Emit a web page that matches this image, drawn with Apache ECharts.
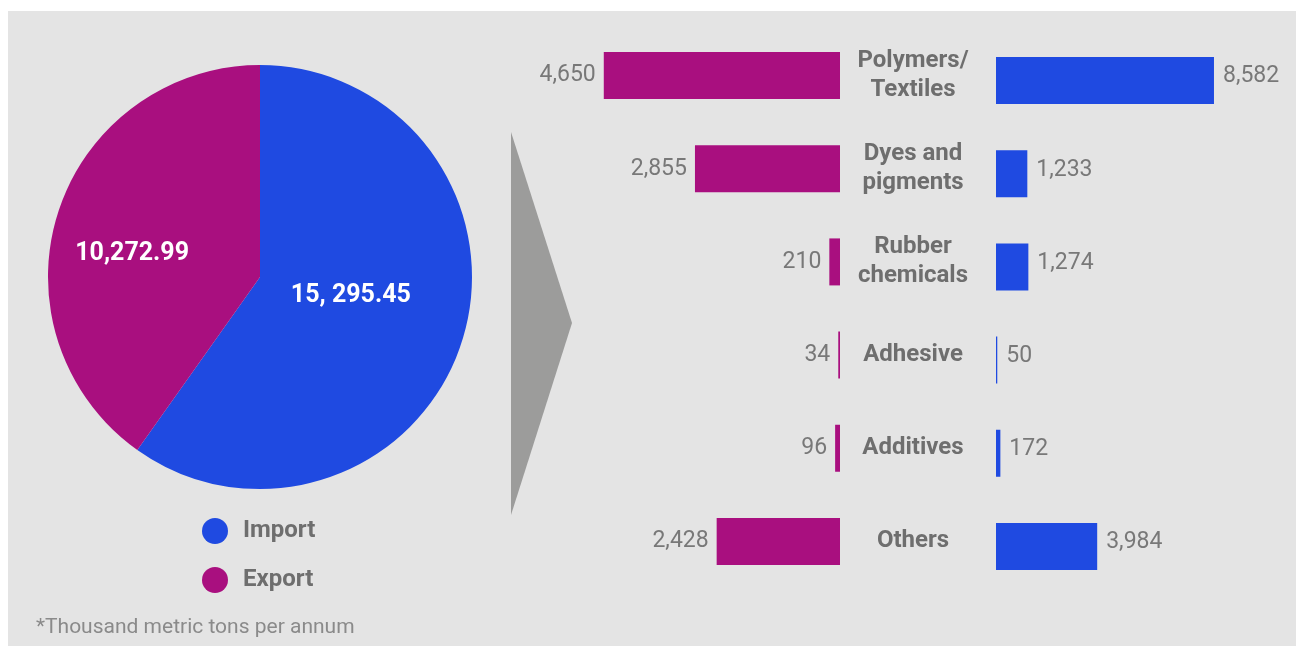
<!DOCTYPE html>
<html>
<head>
<meta charset="utf-8">
<title>Import / Export by segment</title>
<script src="https://cdn.jsdelivr.net/npm/echarts@6/dist/echarts.min.js"></script>
<style>
  html, body { margin: 0; padding: 0; background: #ffffff; }
  #chart { width: 1296px; height: 646px; }
</style>
</head>
<body>
<div id="chart"></div>
<script>
// Totals (thousand metric tons per annum)
const pieNames = ['Import', 'Export'];
const pieValues = [15295.45, 10272.99];
const pieLabels = ['15, 295.45', '10,272.99'];

// Breakdown by segment
const categories = ['Polymers/\nTextiles', 'Dyes and\npigments', 'Rubber\nchemicals', 'Adhesive', 'Additives', 'Others'];
const exportValues = [4650, 2855, 210, 34, 96, 2428];
const importValues = [8582, 1233, 1274, 50, 172, 3984];

const footnote = '*Thousand metric tons per annum';

const BLUE = '#1f4ae1';
const MAGENTA = '#a90f7f';
const FONT = 'Roboto, "Noto Sans", sans-serif';

const fmt = v => Number(v).toLocaleString('en-US');

const chart = echarts.init(document.getElementById('chart'), null, { renderer: 'canvas' });

chart.setOption({
  animation: false,
  backgroundColor: '#ffffff',
  textStyle: { fontFamily: FONT },
  graphic: [
    { type: 'rect', z: -10, silent: true,
      shape: { x: 8, y: 11, width: 1288, height: 635 },
      style: { fill: '#e4e4e4' } },
    { type: 'polygon', z: 1, silent: true,
      shape: { points: [[511, 132], [572, 323], [511, 515]] },
      style: { fill: '#9c9c9b' } },
    { type: 'text', z: 5, left: 36, top: 617,
      style: { text: footnote, fill: '#8a8a8a', font: '21px ' + FONT } }
  ],
  legend: {
    orient: 'vertical',
    left: 197,
    top: 513,
    itemWidth: 26,
    itemHeight: 26,
    itemGap: 23,
    icon: 'circle',
    data: pieNames,
    textStyle: {
      color: '#6e6e6e', fontSize: 24, fontWeight: 'bold', fontFamily: FONT,
      padding: [0, 0, 0, 10]
    }
  },
  grid: [
    { left: 586, width: 254, top: 29, height: 559 },
    { left: 996, width: 254, top: 34, height: 559 }
  ],
  xAxis: [
    { gridIndex: 0, type: 'value', min: 0, max: 5000, inverse: true, show: false },
    { gridIndex: 1, type: 'value', min: 0, max: 10000, show: false }
  ],
  yAxis: [
    { gridIndex: 0, type: 'category', data: categories, inverse: true, position: 'right',
      axisLine: { show: false }, axisTick: { show: false }, splitLine: { show: false },
      axisLabel: {
        show: true, margin: 73, align: 'center', verticalAlign: 'middle',
        color: '#6e6e6e', fontSize: 24, fontWeight: 'bold', lineHeight: 29, fontFamily: FONT
      } },
    { gridIndex: 1, type: 'category', data: categories, inverse: true, show: false }
  ],
  series: [
    {
      type: 'pie',
      center: [260, 277],
      radius: [0, 212],
      startAngle: 90,
      clockwise: true,
      avoidLabelOverlap: false,
      data: pieNames.map((n, i) => ({
        name: n, value: pieValues[i],
        itemStyle: { color: i === 0 ? BLUE : MAGENTA }
      })),
      itemStyle: { borderWidth: 0 },
      label: {
        show: true, position: 'inside',
        color: '#ffffff', fontSize: 25, fontWeight: 'bold', fontFamily: FONT,
        formatter: p => pieLabels[p.dataIndex]
      },
      labelLine: { show: false },
      labelLayout: p => (p.dataIndex === 0 ? { dx: -13, dy: -14 } : { dx: -24, dy: 10 }),
      emphasis: { disabled: true }
    },
    {
      type: 'bar', name: 'Export', xAxisIndex: 0, yAxisIndex: 0,
      data: exportValues, barWidth: 47,
      itemStyle: { color: MAGENTA },
      label: {
        show: true, position: 'left', distance: 8,
        color: '#787878', fontSize: 23, fontFamily: FONT,
        formatter: p => fmt(p.value)
      },
      emphasis: { disabled: true }
    },
    {
      type: 'bar', name: 'Import', xAxisIndex: 1, yAxisIndex: 1,
      data: importValues, barWidth: 47,
      itemStyle: { color: BLUE },
      label: {
        show: true, position: 'right', distance: 9, offset: [0, -4],
        color: '#787878', fontSize: 23, fontFamily: FONT,
        formatter: p => fmt(p.value)
      },
      emphasis: { disabled: true }
    }
  ]
});
</script>
</body>
</html>
